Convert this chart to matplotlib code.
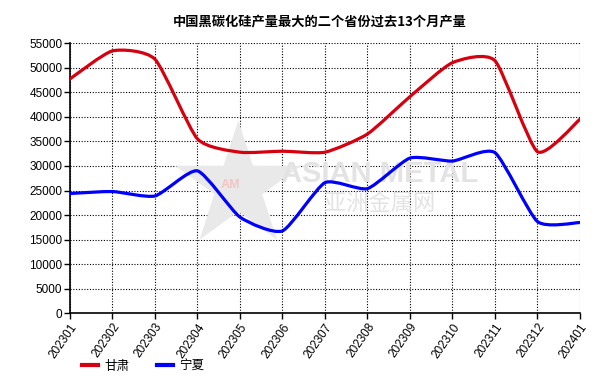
import numpy as np
import matplotlib
matplotlib.use('Agg')
import matplotlib.pyplot as plt
from matplotlib.path import Path
from matplotlib.patches import PathPatch
from matplotlib.lines import Line2D

plt.rcParams['font.family'] = ['Noto Sans CJK SC', 'DejaVu Sans']

# data
months = ['202301', '202302', '202303', '202304', '202305', '202306', '202307',
          '202308', '202309', '202310', '202311', '202312', '202401']
gansu = [47700, 53400, 51700, 35500, 32800, 33000, 32800,
         36500, 44100, 51000, 51400, 32900, 39500]
ningxia = [24400, 24800, 23900, 29000, 19600, 16800, 26600,
           25400, 31600, 31000, 32700, 18700, 18500]
series_names = ['甘肃', '宁夏']
series_colors = ['#D7000F', '#0000FF']
yticks = list(range(0, 55001, 5000))


# smooth curve through the points with cubic bezier segments (catmull-rom)
def smooth_path(x, y, t=0.1):
    x = np.asarray(x, float)
    y = np.asarray(y, float)
    verts = [(x[0], y[0])]
    codes = [Path.MOVETO]
    n = len(x)
    for i in range(n - 1):
        p0 = i - 1 if i > 0 else i
        p3 = i + 2 if i + 2 < n else i + 1
        c1 = (x[i] + (x[i + 1] - x[p0]) * t, y[i] + (y[i + 1] - y[p0]) * t)
        c2 = (x[i + 1] - (x[p3] - x[i]) * t, y[i + 1] - (y[p3] - y[i]) * t)
        verts += [c1, c2, (x[i + 1], y[i + 1])]
        codes += [Path.CURVE4] * 3
    return Path(verts, codes)


fig = plt.figure(figsize=(6.15, 3.84), dpi=100)
ax = fig.add_axes([0.1138, 0.1836, 0.8292, 0.7044])

xs = np.arange(len(months))
for vals, col in zip([gansu, ningxia], series_colors):
    ax.add_patch(PathPatch(smooth_path(xs, vals), facecolor='none',
                           edgecolor=col, lw=2.3, capstyle='round',
                           joinstyle='round', zorder=3))

ax.set_xlim(0, len(months) - 1)
ax.set_ylim(0, 55000)
ax.set_xticks(xs)
ax.set_xticklabels(months, rotation=55, ha='right', va='top',
                   rotation_mode='anchor', family='Liberation Sans', fontsize=8.5)
ax.set_yticks(yticks)
ax.set_yticklabels([str(v) for v in yticks], family='Liberation Sans', fontsize=8.5)
ax.tick_params(direction='out', length=4, width=1, pad=1.5)
ax.grid(True, color='black', linestyle=(0, (1, 1.5)), linewidth=0.8)
ax.set_axisbelow(True)
for s in ['top', 'right']:
    ax.spines[s].set_visible(False)
for s in ['left', 'bottom']:
    ax.spines[s].set_linewidth(1.2)

# watermark
ax.scatter([0.33], [0.47], transform=ax.transAxes, marker='*', s=9000,
           color='#e9e9e9', edgecolors='none', zorder=1)
ax.text(0.314, 0.475, 'AM', transform=ax.transAxes, fontsize=9,
        color='#f5c4c4', ha='center', va='center', family='Liberation Sans',
        fontweight='bold', zorder=1)
ax.text(0.608, 0.516, 'ASIAN METAL', transform=ax.transAxes, fontsize=21,
        fontweight='bold', color='#e3e3e3', ha='center', va='center',
        family='Liberation Sans', zorder=1)
ax.text(0.608, 0.405, '亚洲金属网', transform=ax.transAxes, fontsize=16,
        color='#e3e3e3', ha='center', va='center', zorder=1)

fig.text(0.52, 0.945, '中国黑碳化硅产量最大的二个省份过去13个月产量',
         ha='center', va='center', fontsize=9.5, fontweight='bold')

handles = [Line2D([], [], color=c, lw=3) for c in series_colors]
fig.legend(handles, series_names, loc='lower left', bbox_to_anchor=(0.115, 0.0),
           ncol=2, frameon=False, fontsize=9, handlelength=1.3,
           columnspacing=2.2, handletextpad=0.5)

fig.savefig('out.png', dpi=100)
